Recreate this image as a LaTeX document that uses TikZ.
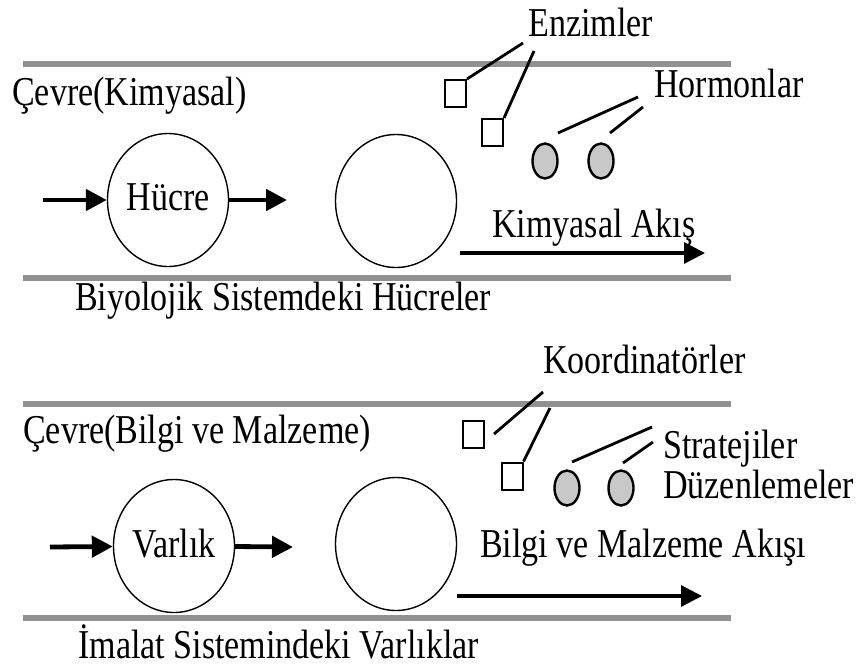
\documentclass[tikz,border=0pt]{standalone}
\usepackage{fontspec}
\setmainfont{Liberation Serif}[FakeStretch=0.83]
\usetikzlibrary{shapes.geometric,arrows.meta}

\definecolor{wallgray}{RGB}{145,145,145}
\definecolor{dropgray}{RGB}{200,200,200}

\begin{document}
\begin{tikzpicture}[x=1pt,y=-1pt,
lbl/.style={anchor=base west,inner sep=0pt,font=\fontsize{41}{43}\selectfont},
cell/.style={draw,ellipse,line width=1.4pt,minimum width=121pt,minimum height=133pt,
  inner sep=0pt,text depth=6pt,font=\fontsize{41}{43}\selectfont},
box/.style={draw,line width=2pt,minimum width=21pt,minimum height=27pt,inner sep=0pt},
drop/.style={draw,ellipse,line width=2.4pt,fill=dropgray,minimum width=25pt,
  minimum height=35pt,inner sep=0pt},
pipe/.style={line width=6pt,draw=wallgray}
]

\tikzstyle{link} = [-,line width=2.8pt]
\tikzstyle{feed} = [-{Triangle[length=21pt,width=21pt]},line width=4.8pt]
\tikzstyle{stream} = [-{Triangle[length=21pt,width=21pt]},line width=3.2pt]

  \useasboundingbox (0,0) rectangle (858,669);

  % biyolojik sistem
  \draw[pipe] (23,64) -- (731,64);
  \draw[pipe] (23,278) -- (731,278);

  \node (enzimler)   [lbl] at (528,37)     {Enzimler};
  \node (cevre1)     [lbl] at (12,105)     {Çevre(Kimyasal)};
  \node (hormonlar)  [lbl] at (654,97)     {Hormonlar};
  \node (akis1)      [lbl] at (492,237)    {Kimyasal Akış};
  \node (sistem1)    [lbl] at (75,310)     {Biyolojik Sistemdeki Hücreler};

  \node (hucre)   [cell] at (168,200)      {Hücre};
  \node (hucre2)  [cell] at (396,201)      {};
  \node (esq1)    [box]  at (455.5,93.5)   {};
  \node (esq2)    [box]  at (492.5,132.5)  {};
  \node (hdrop1)  [drop] at (545,161)      {};
  \node (hdrop2)  [drop] at (601,161)      {};

  \coordinate (in1)  at (43,200);
  \coordinate (out1) at (287,200);
  \coordinate (e1)   at (523,43);
  \coordinate (e2)   at (534,51);
  \coordinate (h1a)  at (558,133);
  \coordinate (h1b)  at (638,97);
  \coordinate (h2a)  at (610,133);
  \coordinate (h2b)  at (643,107);
  \coordinate (f1a)  at (460,253);
  \coordinate (f1b)  at (705,253);

\draw[feed] (in1) -- (hucre);
\draw[feed] (hucre) -- (out1);
\draw[stream] (f1a) -- (f1b);

\path[link] (e1) edge (esq1.north east);
\path[link] (e2) edge (esq2.north east);
\path[link] (h1a) edge (h1b);
\path[link] (h2a) edge (h2b);

  % imalat sistemi
  \draw[pipe] (23,404) -- (731,404);
  \draw[pipe] (23,618) -- (731,618);

  \node (koord)      [lbl] at (543,373)    {Koordinatörler};
  \node (cevre2)     [lbl] at (23,443)     {Çevre(Bilgi ve Malzeme)};
  \node (strateji)   [lbl] at (663,458)    {Stratejiler};
  \node (duzen)      [lbl] at (663,498)    {Düzenlemeler};
  \node (akis2)      [lbl] at (480,557)    {Bilgi ve Malzeme Akışı};
  \node (sistem2)    [lbl] at (78,658)     {İmalat Sistemindeki Varlıklar};

  \node (varlik)   [cell] at (174,546)     {Varlık};
  \node (varlik2)  [cell] at (396,544)     {};
  \node (ksq1)     [box]  at (473.5,434)   {};
  \node (ksq2)     [box]  at (512,476)     {};
  \node (sdrop1)   [drop] at (567,488)     {};
  \node (sdrop2)   [drop] at (621,488)     {};

  \coordinate (in2)  at (50,547);
  \coordinate (out2) at (293,547);
  \coordinate (k1)   at (543,392);
  \coordinate (k2)   at (550,408);
  \coordinate (s1a)  at (572,462);
  \coordinate (s1b)  at (652,427);
  \coordinate (s2a)  at (623,463);
  \coordinate (s2b)  at (653,442);
  \coordinate (f2a)  at (457,596);
  \coordinate (f2b)  at (702,596);

\draw[feed] (in2) -- (varlik);
\draw[feed] (varlik) -- (out2);
\draw[stream] (f2a) -- (f2b);

\path[link] (k1) edge ([xshift=9pt]ksq1.east);
\path[link] (k2) edge (ksq2.north east);
\path[link] (s1a) edge (s1b);
\path[link] (s2a) edge (s2b);

\end{tikzpicture}
\end{document}
